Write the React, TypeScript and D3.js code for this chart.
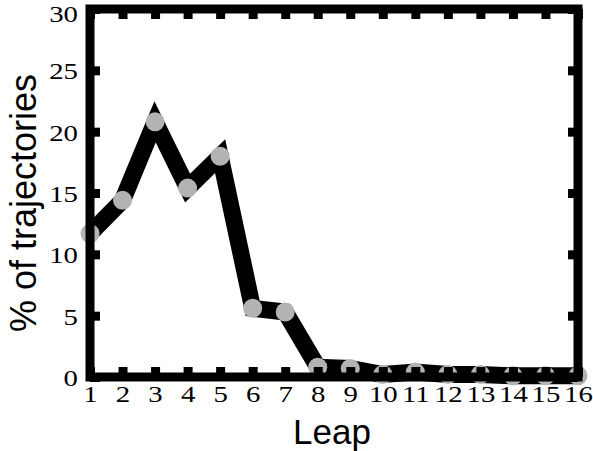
import React, { useEffect, useRef } from "react";
import * as d3 from "d3";

const leaps = [1, 2, 3, 4, 5, 6, 7, 8, 9, 10, 11, 12, 13, 14, 15, 16];
const percents = [11.7, 14.4, 20.8, 15.4, 18.0, 5.6, 5.3, 0.8, 0.7, 0.2, 0.4, 0.2, 0.2, 0.1, 0.1, 0.1];
const yTicks = [0, 5, 10, 15, 20, 25, 30];
const xLabel = "Leap";
const yLabel = "% of trajectories";

export default function App() {
  const ref = useRef<SVGSVGElement>(null);

  useEffect(() => {
    const svg = d3.select(ref.current);
    svg.selectAll("*").remove();
    const W = 593, H = 451;
    const L = 90, R = 578, T = 9, B = 377;
    const x = d3.scaleLinear().domain([1, 16]).range([L, R]);
    const y = d3.scaleLinear().domain([0, 30]).range([B, T]);

    svg.append("rect").attr("width", W).attr("height", H).attr("fill", "white");

    const data = leaps.map((l, i) => ({ l, v: percents[i] }));
    const line = d3.line<{ l: number; v: number }>().x(d => x(d.l)).y(d => y(d.v));
    svg.append("path")
      .datum(data)
      .attr("d", line)
      .attr("fill", "none")
      .attr("stroke", "black")
      .attr("stroke-width", 17)
      .attr("stroke-linejoin", "miter")
      .attr("stroke-miterlimit", 10);

    svg.append("g").selectAll("circle").data(data).join("circle")
      .attr("cx", d => x(d.l)).attr("cy", d => y(d.v)).attr("r", 9.5)
      .attr("fill", "#b3b3b3");

    const styleAxis = (g: any) => {
      g.select(".domain").remove();
      g.selectAll(".tick line").attr("stroke", "black").attr("stroke-width", 9);
      g.selectAll(".tick text")
        .attr("fill", "black")
        .style("font-family", "'Liberation Serif', 'Times New Roman', serif")
        .style("font-size", "24px");
    };

    const gx = svg.append("g").attr("transform", `translate(0,${B})`)
      .call(d3.axisBottom(x).tickValues(leaps).tickFormat(d3.format("d")).tickSizeInner(-10).tickSizeOuter(0).tickPadding(8))
      .call(styleAxis);
    gx.selectAll(".tick text").attr("transform", "scale(1.2,1)");

    svg.append("g").attr("transform", `translate(0,${T})`)
      .call(d3.axisTop(x).tickValues(leaps).tickFormat(() => "").tickSizeInner(-10).tickSizeOuter(0))
      .call(styleAxis);

    const gy = svg.append("g").attr("transform", `translate(${L},0)`)
      .call(d3.axisLeft(y).tickValues(yTicks).tickFormat(d3.format("d")).tickSizeInner(-10).tickSizeOuter(0).tickPadding(10))
      .call(styleAxis);
    gy.selectAll(".tick text")
      .attr("dy", "0.36em")
      .attr("transform", (d: any) => `translate(0,${d === 30 ? 4 : 0}) scale(1.2,1)`);

    svg.append("g").attr("transform", `translate(${R},0)`)
      .call(d3.axisRight(y).tickValues(yTicks).tickFormat(() => "").tickSizeInner(-10).tickSizeOuter(0))
      .call(styleAxis);

    svg.append("rect")
      .attr("x", L).attr("y", T).attr("width", R - L).attr("height", B - T)
      .attr("fill", "none").attr("stroke", "black").attr("stroke-width", 9);

    svg.append("text")
      .attr("x", (L + R) / 2 - 2).attr("y", 444)
      .attr("text-anchor", "middle")
      .style("font-family", "'Liberation Sans', Arial, sans-serif")
      .style("font-size", "35px")
      .text(xLabel);

    svg.append("text")
      .attr("transform", `translate(36,${(T + B) / 2 + 10}) rotate(-90)`)
      .attr("text-anchor", "middle")
      .style("font-family", "'Liberation Sans', Arial, sans-serif")
      .style("font-size", "36px")
      .text(yLabel);
  }, []);

  return (
    <svg ref={ref} width={593} height={451}
      style={{ position: "absolute", left: 0, top: 0, display: "block" }} />
  );
}
